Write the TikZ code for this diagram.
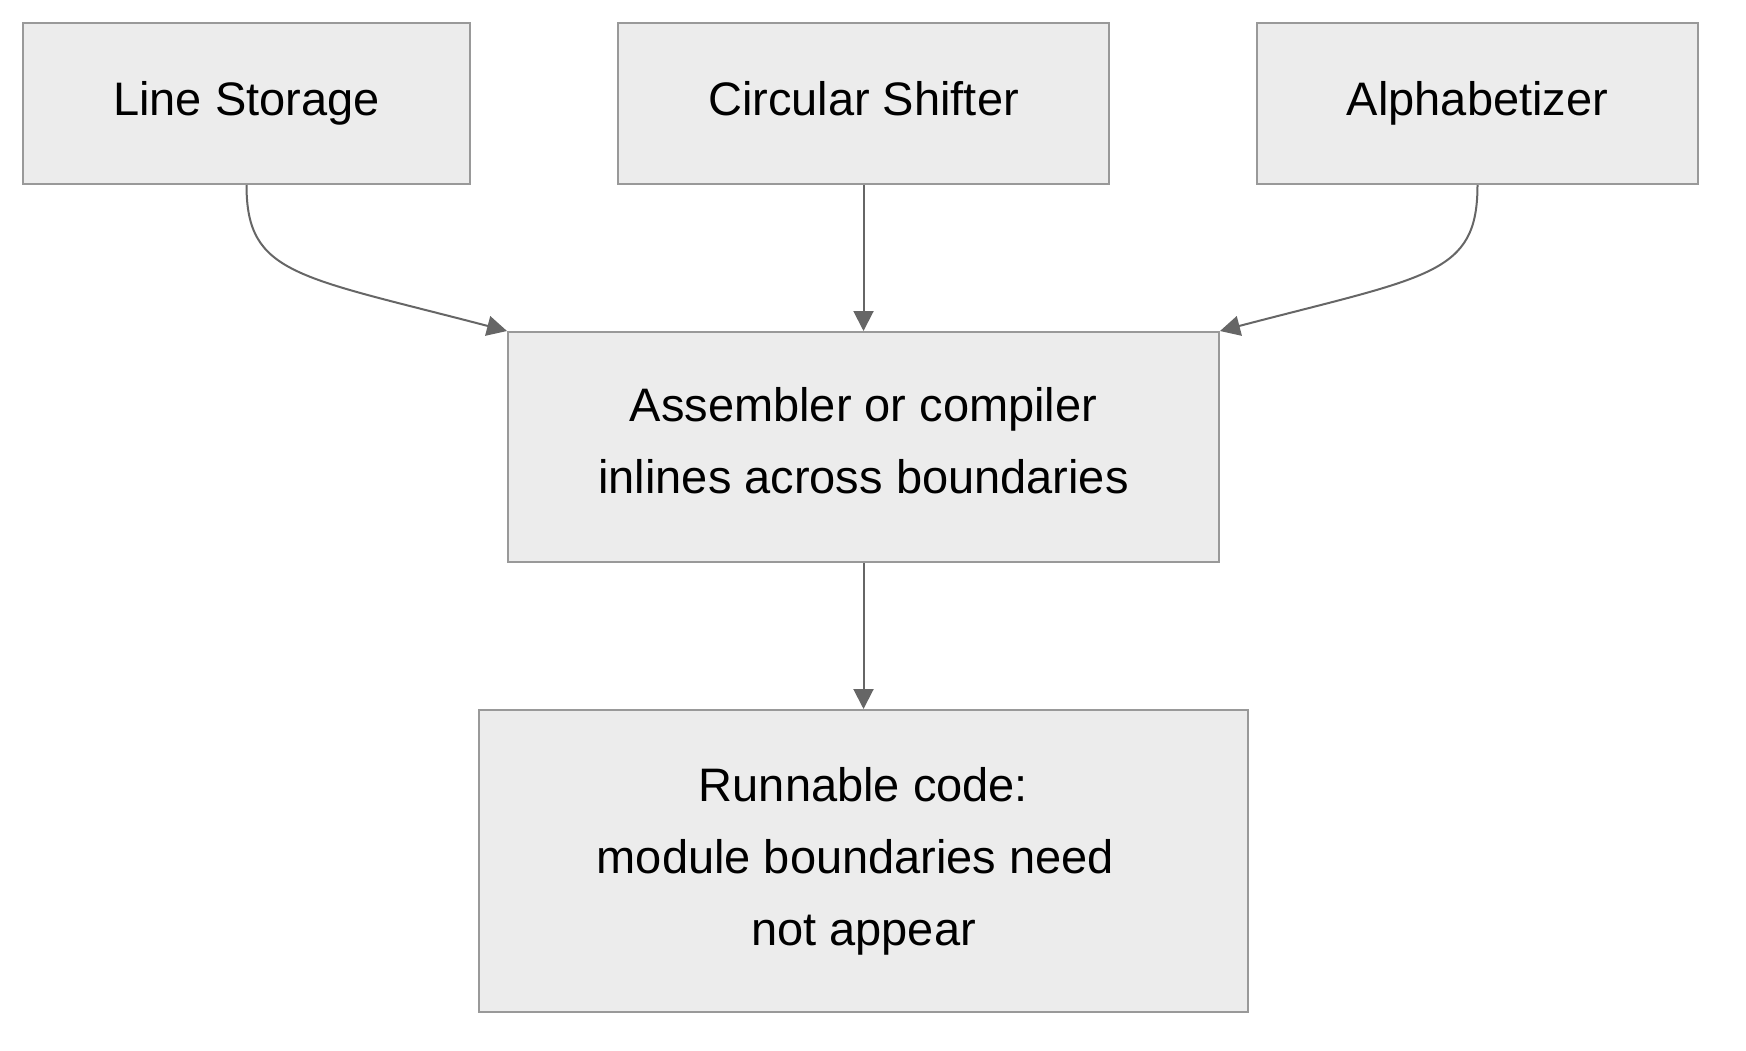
\documentclass[tikz,border=0pt]{standalone}
\usepackage{fontspec}
\setmainfont{Liberation Sans}
\usetikzlibrary{arrows.meta}

\definecolor{boxfill}{RGB}{236, 236, 236}
\definecolor{boxline}{RGB}{153, 153, 153}
\definecolor{edgegray}{RGB}{102, 102, 102}

\tikzset{
    modbox/.style = {
        draw          = boxline,
        line width    = 1pt,
        fill          = boxfill,
        align         = center,
        inner sep     = 0pt,
        font          = \fontsize{23.5}{36}\selectfont
    },
    oneline/.style = {
        text height   = 17pt,
        text depth    = 5pt
    },
    flowarrow/.style = {
        draw          = edgegray,
        line width    = 1pt,
        -{Triangle[length=10pt,width=10pt]}
    }
}

\begin{document}
\begin{tikzpicture}[x=0.5pt, y=-0.5pt]
    \useasboundingbox (0,0) rectangle (1746,1050);

    % top row
    \node[modbox, oneline, minimum width=223.5pt, minimum height=80.5pt] (ls)  at (246.5,103.5)  {Line Storage};
    \node[modbox, oneline, minimum width=245.5pt, minimum height=80.5pt] (cs)  at (863.5,103.5)  {Circular Shifter};
    \node[modbox, oneline, minimum width=220.5pt, minimum height=80.5pt] (alp) at (1477.5,103.5) {Alphabetizer};

    % middle and bottom
    \node[modbox, minimum width=355.5pt, minimum height=115pt] (asm) at (863.5,447)
        {Assembler or compiler\\inlines across boundaries\rule[-6.8pt]{0pt}{0pt}};
    \node[modbox, minimum width=384.5pt, minimum height=151pt] (run) at (863.5,861)
        {Runnable code:\\module boundaries need\rule{8pt}{0pt}\\not appear};

    % connectors
    \draw[flowarrow] (ls.south)  .. controls +(0,90) and +(-210,-55) .. (asm.north west);
    \draw[flowarrow] (cs.south)  -- (asm.north);
    \draw[flowarrow] (alp.south) .. controls +(0,90) and +(210,-55)  .. (asm.north east);
    \draw[flowarrow] (asm.south) -- (run.north);
\end{tikzpicture}
\end{document}
